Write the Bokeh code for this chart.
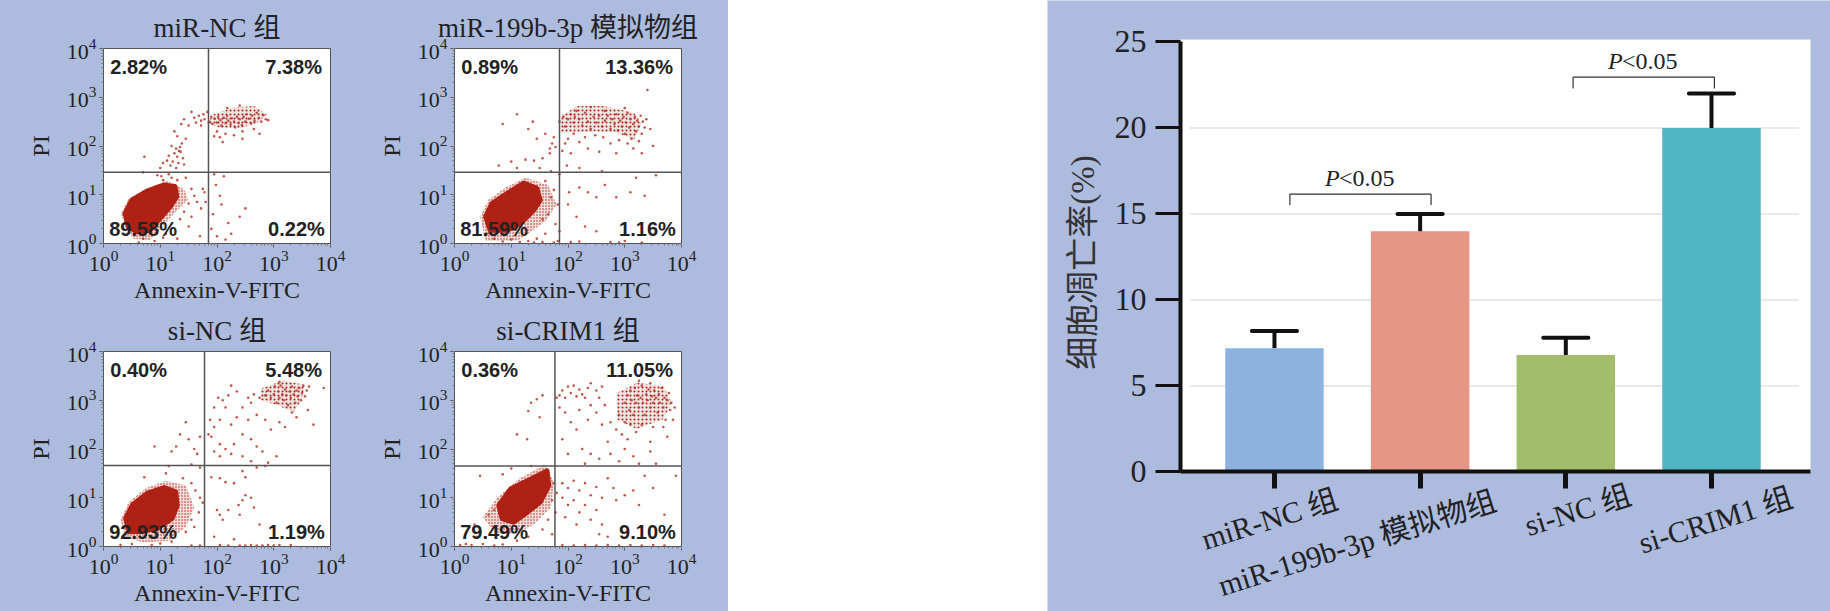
from bokeh.core.properties import value
from bokeh.embed import file_html
from bokeh.layouts import column, row
from bokeh.models import Range1d, Span
from bokeh.plotting import figure
from bokeh.resources import INLINE

BG = "#adbbdf"
SERIF = "Liberation Serif, Noto Sans CJK SC"
RED = "#ae2114"

# bar chart values
groups = ["miR-NC 组", "miR-199b-3p 模拟物组", "si-NC 组", "si-CRIM1 组"]
rate = [7.2, 14.0, 6.8, 20.0]
rate_top = [8.2, 15.0, 7.8, 22.0]
bar_colors = ["#8db2df", "#e59684", "#a2bd6b", "#4fb5c4"]
y_ticks = [0, 5, 10, 15, 20, 25]

# flow panels, everything in decades (log10)
gate_x = [1.85, 1.85, 1.78, 1.77]
gate_y = [1.46, 1.46, 1.66, 1.65]
percents = [
    ["2.82%", "7.38%", "89.58%", "0.22%"],
    ["0.89%", "13.36%", "81.59%", "1.16%"],
    ["0.40%", "5.48%", "92.93%", "1.19%"],
    ["0.36%", "11.05%", "79.49%", "9.10%"],
]

core_1 = [(.38, .62), (.5, .89), (.76, 1.07), (1.06, 1.2), (1.26, 1.17), (1.29, .96), (1.18, .76), (1.0, .52), (.82, .27), (.59, .24), (.44, .34)]
core_2 = [(.55, .55), (.66, .82), (.93, 1.03), (1.22, 1.24), (1.45, 1.13), (1.51, .89), (1.40, .69), (1.16, .41), (.93, .27), (.63, .27)]
core_3 = [(.39, .58), (.51, .85), (.77, 1.09), (1.07, 1.21), (1.27, 1.12), (1.30, .85), (1.21, .58), (.95, .37), (.66, .31), (.45, .31)]
core_4 = [(.78, .84), (.99, 1.18), (1.34, 1.38), (1.63, 1.55), (1.66, 1.25), (1.51, .91), (1.28, .70), (1.04, .50), (.84, .57)]

halo_1 = [(.31, .62), (.44, .92), (.76, 1.13), (1.12, 1.28), (1.42, 1.12), (1.49, .9), (1.25, .62), (1.0, .3), (.82, .07), (.53, .1), (.38, .34)]
halo_2 = [(.45, .55), (.6, .9), (.9, 1.15), (1.25, 1.35), (1.65, 1.2), (1.8, .8), (1.6, .45), (1.3, .2), (1.1, .05), (.55, .05)]
halo_3 = [(.3, .55), (.45, .92), (.75, 1.2), (1.1, 1.35), (1.45, 1.25), (1.6, .8), (1.45, .4), (1.15, .12), (.7, .08), (.38, .2)]
halo_4 = [(.5, .6), (.75, 1.0), (1.15, 1.4), (1.6, 1.68), (1.75, 1.3), (1.7, .8), (1.4, .45), (1.05, .25), (.7, .3)]

# upper right clusters
cluster_1 = [(1.94, 2.65), (2.29, 2.79), (2.65, 2.82), (2.88, 2.65), (2.71, 2.47), (2.41, 2.37), (2.06, 2.37), (1.82, 2.47)]
cluster_2 = [(1.87, 2.61), (2.16, 2.82), (2.63, 2.82), (3.16, 2.68), (3.3, 2.47), (3.16, 2.13), (2.86, 2.27), (2.45, 2.3), (2.04, 2.27), (1.87, 2.27)]
cluster_3 = [(2.77, 3.24), (3.18, 3.41), (3.56, 3.31), (3.47, 2.96), (3.35, 2.76), (3.06, 2.9), (2.77, 3.0)]
cluster_4 = [(2.86, 3.15), (3.21, 3.36), (3.68, 3.29), (3.83, 2.95), (3.68, 2.61), (3.21, 2.41), (2.86, 2.61)]

dots_1 = [
    (1.78, 2.55), (1.83, 2.7), (1.86, 2.5), (1.9, 2.6), (1.92, 2.45), (1.96, 2.56), (2.0, 2.48), (2.02, 2.6), (2.06, 2.53), (2.08, 2.42),
    (2.12, 2.58), (2.15, 2.47), (2.18, 2.62), (2.2, 2.52), (2.24, 2.44), (2.26, 2.57), (2.3, 2.5), (2.32, 2.38), (2.35, 2.6), (2.38, 2.47),
    (2.4, 2.55), (2.44, 2.43), (2.47, 2.6), (2.5, 2.5), (2.52, 2.65), (2.56, 2.56), (2.6, 2.46), (2.62, 2.62), (2.66, 2.52), (2.7, 2.68),
    (2.74, 2.58), (2.78, 2.5), (2.82, 2.63), (2.86, 2.55), (2.9, 2.53), (2.18, 2.78), (2.4, 2.83), (2.0, 2.3), (2.15, 2.25), (2.3, 2.22),
    (2.45, 2.3), (2.05, 2.18), (2.65, 2.35), (2.75, 2.25), (1.95, 2.2), (2.1, 2.08), (2.45, 2.15),
    (1.55, 2.7), (1.6, 2.58), (1.63, 2.48), (1.68, 2.62), (1.72, 2.42), (1.5, 2.42), (1.42, 2.55), (1.37, 2.45), (1.72, 2.52), (1.76, 2.65),
    (1.25, 2.3), (1.3, 2.2), (1.38, 2.05), (1.45, 2.15), (1.28, 1.95), (1.33, 1.9), (1.2, 2.0), (1.25, 1.85), (1.3, 1.78), (1.36, 1.88),
    (1.4, 1.75), (1.22, 1.68), (1.32, 1.65), (1.42, 1.62), (1.05, 1.65), (1.12, 1.7), (1.18, 1.6), (1.28, 1.55), (1.35, 1.98), (1.15, 1.8),
    (.72, 1.78), (.7, 1.46), (1.0, 1.55), (1.15, 1.42), (.95, 1.4), (1.2, 1.35), (1.05, 1.3), (1.45, 1.35), (1.3, 1.3), (1.02, 1.38),
    (1.55, 1.12), (1.6, .98), (1.5, .82), (1.65, .85), (1.42, .65), (1.75, 1.12), (1.78, 1.05), (1.8, .85), (1.72, .72), (1.35, .5),
    (1.5, .35), (1.7, .15), (1.55, .55), (1.2, .4), (1.1, .2), (.9, .05), (.7, .1), (.62, .02), (1.3, .1), (1.05, .12),
    (1.95, 1.42), (2.05, .98), (2.2, .42), (2.5, .72), (2.0, .15), (2.25, .2), (2.15, .08), (2.08, .8), (1.98, 1.2), (2.12, 1.38),
    (2.4, .55), (1.93, .6), (1.9, .3),
]
dots_2 = [
    (1.85, 2.5), (1.92, 2.6), (1.95, 2.4), (2.0, 2.55), (2.05, 2.65), (2.1, 2.48), (2.12, 2.6), (2.15, 2.72), (2.2, 2.55), (2.25, 2.42),
    (2.3, 2.68), (2.35, 2.5), (2.4, 2.35), (2.45, 2.6), (2.5, 2.48), (2.55, 2.62), (2.6, 2.4), (2.65, 2.52), (2.7, 2.62), (2.75, 2.35),
    (2.78, 2.55), (2.82, 2.45), (2.85, 2.65), (2.88, 2.32), (2.92, 2.52), (2.95, 2.4), (2.98, 2.6), (3.0, 2.25), (3.02, 2.48), (3.05, 2.68),
    (3.08, 2.38), (3.1, 2.55), (3.12, 2.15), (3.15, 2.45), (3.18, 2.6), (3.2, 2.3), (3.22, 2.52), (3.25, 2.4), (3.28, 2.62), (3.3, 2.25),
    (3.32, 2.5), (3.35, 2.38), (3.38, 2.55), (3.05, 2.05), (3.15, 1.95), (3.25, 2.1), (3.3, 1.85), (2.9, 2.12), (2.75, 2.05), (2.62, 2.18),
    (2.48, 2.22), (2.3, 2.18), (2.2, 2.08), (2.1, 2.25), (2.0, 2.15), (1.95, 2.05), (1.9, 1.9), (2.05, 1.85), (2.35, 1.95), (2.55, 1.88),
    (2.65, 2.72), (2.4, 2.8), (3.0, 2.78), (3.4, 3.15), (3.45, 2.35), (3.5, 2.0), (2.85, 1.85), (2.2, 1.55), (1.98, 1.6), (2.6, 1.48),
    (1.72, 2.05), (1.78, 1.98), (1.68, 1.95), (1.75, 2.18), (1.6, 2.25), (1.45, 2.15), (1.3, 2.35), (1.38, 2.5), (.85, 2.45), (1.1, 2.65),
    (1.68, 1.85), (1.55, 1.75), (1.4, 1.7), (1.25, 1.72), (1.0, 1.68), (1.1, 1.55), (.78, 1.6), (1.5, 1.55), (1.7, 1.48), (1.85, 1.42),
    (1.6, 1.28), (1.75, 1.1), (1.7, .95), (1.82, .8), (1.65, .6), (1.55, .5), (1.78, .4), (1.85, .25), (1.6, .2), (1.45, .1),
    (1.3, .05), (1.15, .03), (1.0, .08), (.85, .04), (.7, .1), (1.75, .02), (1.55, .03), (1.4, .02), (1.82, .05), (.58, .2),
    (2.02, 1.05), (2.2, 1.15), (2.35, 1.05), (2.5, .95), (2.65, 1.2), (2.85, .95), (3.1, 1.05), (3.35, .98), (3.2, 1.35), (3.55, 1.4),
    (2.0, .8), (2.15, .55), (2.3, .35), (2.5, .25), (2.75, .03), (2.9, .02), (3.0, .05), (2.05, .03), (2.2, .04), (3.3, .02),
]
dots_3 = [
    (2.85, 3.1), (2.9, 3.2), (2.95, 3.05), (3.0, 3.12), (3.02, 3.28), (3.05, 2.95), (3.08, 3.18), (3.1, 3.05), (3.12, 3.3), (3.15, 3.12),
    (3.18, 3.0), (3.2, 3.22), (3.22, 3.1), (3.25, 2.9), (3.28, 3.18), (3.3, 3.05), (3.32, 3.28), (3.35, 3.12), (3.38, 2.95), (3.4, 3.2),
    (3.42, 3.08), (3.45, 3.25), (3.48, 3.0), (3.5, 3.15), (3.52, 3.3), (3.55, 3.08), (3.58, 3.2), (3.6, 2.8), (3.32, 2.75), (3.4, 2.65),
    (3.62, 3.28), (3.88, 3.25), (3.7, 2.5), (3.1, 3.38), (2.75, 3.05), (2.65, 3.12), (2.6, 2.95), (2.55, 3.05), (2.45, 2.85), (2.35, 3.18),
    (2.25, 3.3), (2.2, 3.1), (2.15, 2.85), (2.1, 3.0), (2.02, 3.05), (1.95, 2.85), (1.88, 2.6), (1.95, 2.45), (2.05, 2.6), (2.25, 2.5),
    (2.35, 2.65), (2.55, 2.6), (2.7, 2.7), (2.85, 2.6), (2.95, 2.4), (3.1, 2.55), (3.2, 2.45), (2.45, 2.3), (2.6, 2.2), (2.7, 2.05),
    (2.3, 2.1), (2.15, 2.0), (2.05, 2.1), (1.9, 2.25), (1.85, 2.3), (1.95, 1.95), (2.05, 1.85), (2.25, 1.9), (2.45, 1.85), (2.6, 1.75),
    (2.8, 1.95), (3.05, 1.85), (2.9, 1.72), (2.7, 1.62), (2.85, 1.65),
    (1.45, 2.55), (1.35, 2.3), (1.28, 2.05), (1.5, 2.2), (1.6, 2.0), (1.7, 2.25), (1.65, 1.9), (.9, 2.05), (1.2, 1.95), (1.55, 1.68),
    (1.15, 1.65), (1.7, 1.62), (.72, 1.42), (1.1, 1.5), (1.4, 1.4), (1.55, 1.3), (1.62, 1.15), (1.7, 1.0), (1.75, .9), (1.68, .7),
    (1.55, .55), (1.6, .4), (1.45, .3), (1.2, .1), (1.0, .06), (.85, .03), (.3, .03), (.5, .05), (1.55, .02), (1.7, .02),
    (1.9, 1.42), (2.05, 1.4), (2.15, 1.32), (2.3, 1.3), (2.45, 1.55), (2.5, 1.42), (2.38, .85), (2.2, .75), (2.0, .75), (2.05, .65),
    (2.1, .55), (2.45, .95), (2.5, 1.05), (2.6, 1.0), (2.65, .8), (2.4, .65), (2.75, .45), (2.3, .15), (1.95, .2), (2.4, .02),
    (2.5, .02), (2.6, .03), (2.7, .02), (2.8, .02), (2.9, .03), (3.0, .02), (3.1, .03), (2.2, .02), (2.05, .03), (3.3, .03),
]
dots_4 = [
    (3.0, 2.95), (3.05, 3.1), (3.08, 2.8), (3.1, 3.2), (3.12, 3.0), (3.15, 2.7), (3.18, 3.25), (3.2, 2.95), (3.22, 3.1), (3.25, 2.85),
    (3.28, 3.05), (3.3, 3.3), (3.32, 2.95), (3.35, 2.7), (3.38, 3.12), (3.4, 3.0), (3.42, 3.22), (3.45, 2.85), (3.48, 3.08), (3.5, 2.95),
    (3.52, 3.2), (3.55, 3.05), (3.58, 2.75), (3.6, 3.12), (3.62, 2.95), (3.65, 3.25), (3.68, 2.85), (3.7, 3.05), (3.72, 2.6), (3.75, 3.0),
    (3.78, 3.15), (3.8, 2.8), (3.82, 2.95), (3.85, 2.6), (3.88, 2.85), (3.68, 2.45), (3.75, 2.25), (3.45, 3.35), (3.25, 3.4), (3.1, 2.5),
    (3.0, 2.55), (2.9, 2.7), (2.85, 2.4), (2.75, 2.55), (2.95, 2.3), (3.05, 2.2), (3.2, 2.35), (3.3, 2.5), (3.45, 2.15), (3.5, 2.45),
    (2.7, 2.15), (2.6, 2.5), (2.65, 2.9), (2.5, 2.75), (2.55, 3.05), (2.4, 2.9), (2.35, 2.6), (2.2, 2.8), (2.15, 2.4), (2.05, 2.55),
    (1.85, 3.1), (1.9, 3.2), (1.95, 3.05), (2.0, 3.28), (2.05, 3.15), (2.1, 3.3), (2.15, 3.08), (2.2, 3.22), (2.25, 3.12), (2.3, 3.05),
    (2.35, 3.25), (2.4, 3.35), (2.5, 3.2), (2.6, 3.28), (1.8, 3.05), (1.85, 2.85), (1.95, 2.75), (2.25, 2.0), (2.4, 1.9), (2.55, 1.8),
    (2.75, 1.9), (2.9, 1.75), (3.0, 2.0), (3.15, 1.85), (3.25, 1.7), (3.45, 1.95), (3.55, 1.7), (2.0, 1.9), (1.9, 2.2), (2.3, 1.7),
    (1.55, 3.1), (1.45, 3.02), (1.35, 2.95), (1.3, 2.78), (1.5, 2.65), (1.1, 2.3), (1.28, 2.2), (.85, 1.48), (1.0, 1.6), (1.35, 1.65),
    (.45, 1.45), (.7, .75), (.6, .65), (.35, .45), (.4, .2), (.2, .05), (.1, .03), (.3, .03), (.5, .05), (.7, .02), (.85, .04),
    (1.68, 1.4), (1.75, 1.3), (1.8, 1.1), (1.72, .95), (1.78, .7), (1.65, .55), (1.55, .35), (1.3, .2), (1.1, .12), (1.72, .25),
    (1.9, 1.3), (2.0, 1.2), (2.1, 1.35), (2.2, 1.15), (2.3, 1.3), (2.4, 1.05), (2.5, 1.22), (2.6, 1.0), (2.7, 1.4), (2.8, 1.2),
    (1.9, 1.0), (2.0, .85), (2.1, .95), (2.2, .7), (2.3, .85), (2.4, .55), (2.5, .75), (2.6, .45), (2.15, .45), (1.95, .6),
    (2.85, .95), (3.0, 1.05), (3.15, 1.15), (3.25, .85), (3.35, 1.45), (3.5, 1.2), (3.7, .65), (3.9, 1.45), (2.55, .25), (2.7, .2),
    (1.9, .03), (2.1, .02), (2.3, .03), (2.5, .02), (2.7, .03), (2.9, .02), (3.1, .03), (3.3, .02), (3.5, .03), (3.7, .02),
]
dots = [dots_1, dots_2, dots_3, dots_4]
cores = [core_1, core_2, core_3, core_4]
halos = [halo_1, halo_2, halo_3, halo_4]
clusters = [cluster_1, cluster_2, cluster_3, cluster_4]


def unlog(points):
    return [10 ** a for a, b in points], [10 ** b for a, b in points]


def flow_panel(i, width, height, left, right, top, bottom):
    p = figure(width=width, height=height, x_axis_type="log", y_axis_type="log",
               x_range=Range1d(1, 10000), y_range=Range1d(1, 10000),
               output_backend="svg", toolbar_location=None, title=groups[i],
               min_border_left=left, min_border_right=right, min_border_top=top, min_border_bottom=bottom)
    p.border_fill_color = BG
    p.background_fill_color = "white"
    p.outline_line_color = "#555555"
    p.grid.visible = False
    p.title.align = "center"
    p.title.text_font = SERIF
    p.title.text_font_size = "27px"
    p.title.text_font_style = "normal"
    p.title.text_color = "#222222"
    p.title.standoff = 12
    p.xaxis.axis_label = "Annexin-V-FITC"
    p.yaxis.axis_label = "PI"
    for ax in (p.xaxis, p.yaxis):
        ax.axis_label_text_font = SERIF
        ax.axis_label_text_font_size = "24px"
        ax.axis_label_text_font_style = "normal"
        ax.axis_label_text_color = "#222222"
        ax.axis_label_standoff = 3
        ax.major_label_text_font = SERIF
        ax.major_label_text_font_size = "22px"
        ax.major_label_text_color = "#222222"
        ax.major_label_standoff = 3
        ax.axis_line_color = "#555555"
        ax.major_tick_line_color = "#555555"
        ax.minor_tick_line_color = "#777777"
        ax.major_tick_in = 0
        ax.major_tick_out = 4
        ax.minor_tick_in = 0
        ax.minor_tick_out = 2
    p.yaxis.axis_label_standoff = 10

    hx, hy = unlog(halos[i])
    p.patch(hx, hy, fill_color=RED, fill_alpha=0.15, line_color=None, hatch_pattern="dot", hatch_color=RED, hatch_scale=3, hatch_weight=1.2)
    cx, cy = unlog(clusters[i])
    p.patch(cx, cy, fill_color=RED, fill_alpha=0.12, line_color=None, hatch_pattern="dot", hatch_color=RED, hatch_scale=4, hatch_weight=1.2)
    kx, ky = unlog(cores[i])
    p.patch(kx, ky, color=RED, line_color=RED, line_width=5, line_join="round")
    dx, dy = unlog(dots[i])
    p.scatter(dx, dy, size=2.6, color="#b5382c", alpha=0.85, line_color=None)
    p.add_layout(Span(location=10 ** gate_x[i], dimension="height", line_color="#555555", line_width=1.5))
    p.add_layout(Span(location=10 ** gate_y[i], dimension="width", line_color="#555555", line_width=1.5))

    p.text([10 ** 0.12, 10 ** 3.85, 10 ** 0.1, 10 ** 3.9], [10 ** 3.62, 10 ** 3.62, 10 ** 0.29, 10 ** 0.29],
           text=percents[i], text_align=["left", "right", "left", "right"], text_baseline="middle",
           text_font=value("Liberation Sans"), text_font_style="bold", text_font_size="20px", text_color="#222222")
    return p


f1 = flow_panel(0, 364, 305, 103, 34, 48, 62)
f2 = flow_panel(1, 364, 305, 90, 47, 48, 62)
f3 = flow_panel(2, 364, 306, 103, 34, 46, 64)
f4 = flow_panel(3, 364, 306, 90, 47, 46, 65)

# text outside the frame gets clipped, so the frame fills the whole figure
# and the white plot area is a quad with the axes fixed on its edges
positions = [1, 2, 3, 4]
bar = figure(width=783, height=611, x_range=Range1d(-0.558, 4.817), y_range=Range1d(-8.11, 27.41),
             output_backend="svg", toolbar_location=None, margin=(0, 0, 0, 319),
             min_border_left=0, min_border_right=0, min_border_top=0, min_border_bottom=0)
bar.background_fill_color = BG
bar.border_fill_color = BG
bar.outline_line_color = None
bar.grid.visible = False

bar.quad(left=0.355, right=4.68, bottom=0, top=25.15, fill_color="white", line_color=None)
bar.segment(0.42, y_ticks[1:5], 4.6, y_ticks[1:5], line_color="#e2e2e2", line_width=1.5)
bar.vbar(x=positions, top=rate, width=0.676, fill_color=bar_colors, line_color=None)
bar.segment(positions, rate, positions, rate_top, line_color="#111111", line_width=4)
bar.segment([x - 0.155 for x in positions], rate_top, [x + 0.155 for x in positions], rate_top,
            line_color="#111111", line_width=4, line_cap="round")

# significance brackets
bar.multi_line([[1.106, 1.106, 2.075, 2.075], [3.05, 3.05, 4.02, 4.02]],
               [[15.52, 16.15, 16.15, 15.52], [22.3, 22.95, 22.95, 22.3]], line_color="#333333", line_width=1.2)
bar.text([1.347, 3.29], [17.08, 23.88], text=["P", "P"], text_baseline="middle", text_font=value("Liberation Serif"),
         text_font_style="italic", text_font_size="24px", text_color="#222222")
bar.text([1.347, 3.29], [17.08, 23.88], text=["<0.05", "<0.05"], x_offset=14, text_baseline="middle",
         text_font=value("Liberation Serif"), text_font_size="24px", text_color="#222222")

bar.yaxis.fixed_location = 0.355
bar.yaxis.ticker = y_ticks
bar.yaxis.bounds = (0, 25)
bar.yaxis.axis_line_width = 4
bar.yaxis.axis_line_color = "#111111"
bar.yaxis.major_tick_line_width = 3
bar.yaxis.major_tick_line_color = "#111111"
bar.yaxis.major_tick_in = 0
bar.yaxis.major_tick_out = 25
bar.yaxis.minor_tick_line_color = None
bar.yaxis.major_label_text_font = SERIF
bar.yaxis.major_label_text_font_size = "32px"
bar.yaxis.major_label_text_color = "#222222"
bar.yaxis.major_label_standoff = 9

bar.xaxis.fixed_location = 0
bar.xaxis.ticker = positions
bar.xaxis.bounds = (0.355, 4.68)
bar.xaxis.major_label_overrides = {x: "" for x in positions}
bar.xaxis.axis_line_width = 4
bar.xaxis.axis_line_color = "#111111"
bar.xaxis.major_tick_line_width = 5
bar.xaxis.major_tick_line_color = "#111111"
bar.xaxis.major_tick_in = 0
bar.xaxis.major_tick_out = 17
bar.xaxis.minor_tick_line_color = None

# y title and slanted group names sit by hand in the original, off the axis centre
bar.text([-0.311], [12.18], text=["细胞凋亡率(%)"], angle=90, angle_units="deg", text_align="center",
         text_baseline="middle", text_font=value(SERIF), text_font_size="33px", text_color="#333333")
bar.text(positions, [0, 0, 0, 0], text=groups, angle=17.4, angle_units="deg", text_align="center", text_baseline="middle",
         x_offset=[-5, -63, 12, 4], y_offset=[47, 71, 38, 48], text_font=value(SERIF), text_font_size="30px", text_color="#222222")

left = column(row(f1, f2, spacing=0), row(f3, f4, spacing=0), spacing=0, styles={"background-color": BG})
root = row(left, bar, spacing=0)

open("out.html", "w").write(file_html(root, INLINE))
